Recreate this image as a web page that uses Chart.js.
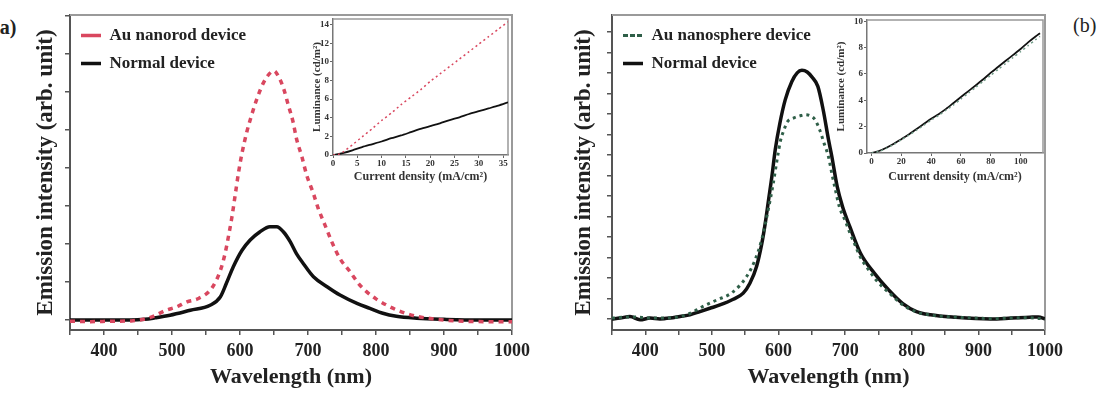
<!DOCTYPE html>
<html>
<head>
<meta charset="utf-8">
<script src="https://cdn.jsdelivr.net/npm/chart.js@4"></script>
<style>
  body { margin: 0; background: #fff; }
  #wrap { position: relative; width: 1103px; height: 395px; overflow: hidden; background: #fff; }
  canvas { position: absolute; }
  .tag { position: absolute; font: 20px "Liberation Serif", serif; color: #222; line-height: 20px; }
</style>
</head>
<body>
<div id="wrap">
  <span class="tag" style="left:-7px; top:17px; font-weight:bold;">(a)</span>
  <span class="tag" style="left:1073px; top:15px;">(b)</span>
  <canvas id="mainA" width="540" height="395" style="left:0; top:0;"></canvas>
  <canvas id="insetA" width="218" height="190" style="left:298px; top:0;"></canvas>
  <canvas id="mainB" width="520" height="395" style="left:550px; top:0;"></canvas>
  <canvas id="insetB" width="222" height="190" style="left:828px; top:0;"></canvas>
</div>
<script>
// (a) emission spectra
var aWaveRed = [350,380,410,440,460,475,490,507,522,539,558,571,578,583,588,593,598,603,610,617,625,634,643,650,657,664,671,678,683,691,698,708,715,725,735,747,762,774,786,800,815,830,845,860,880,900,930,960,1000];
var aRed = [-0.03,-0.04,-0.03,-0.02,0.03,0.12,0.25,0.35,0.48,0.57,0.83,1.3,1.75,2.2,2.7,3.3,3.9,4.4,4.95,5.39,5.83,6.23,6.48,6.56,6.4,6.1,5.66,5.22,4.78,4.3,3.82,3.33,2.94,2.5,2.06,1.62,1.27,0.97,0.75,0.56,0.4,0.27,0.17,0.1,0.04,0.0,-0.03,-0.04,-0.04];
var aWaveBlack = [350,400,440,460,475,497,527,556,571,580,590,603,615,629,644,654,664,674,683,693,708,728,747,772,791,810,830,860,900,950,1000];
var aBlack = [0.0,0.0,0.0,0.02,0.06,0.13,0.26,0.39,0.61,0.97,1.4,1.84,2.11,2.32,2.46,2.46,2.32,2.06,1.75,1.49,1.14,0.88,0.66,0.44,0.31,0.18,0.1,0.05,0.02,0.0,0.0];

// (b) emission spectra
var bWaveBlack = [350,362,377,392,407,422,437,452,467,482,497,512,532,547,557,567,575,580,585,590,595,602,610,620,628,635,643,650,659,667,675,680,688,696,707,723,744,765,786,807,828,866,918,950,977,990,1000];
var bBlack = [0.0,0.02,0.06,-0.02,0.02,0.0,0.02,0.06,0.1,0.18,0.26,0.34,0.48,0.63,0.87,1.28,1.85,2.33,2.9,3.47,4.12,4.77,5.34,5.79,6.0,6.06,6.02,5.9,5.67,5.1,4.37,3.96,3.23,2.74,2.25,1.6,1.11,0.71,0.38,0.18,0.1,0.04,0.0,0.02,0.04,0.05,0.0];
var bWaveGreen = [350,380,410,440,465,486,507,530,552,565,575,585,592,598,603,608,613,623,632,640,648,655,662,668,675,680,686,691,700,707,715,723,733,744,755,765,786,807,830,870,920,970,1000];
var bGreen = [0.02,0.05,0.02,0.03,0.12,0.3,0.46,0.64,1.03,1.45,1.95,2.7,3.3,3.9,4.35,4.6,4.8,4.9,4.95,4.98,4.95,4.85,4.6,4.3,3.95,3.55,3.1,2.75,2.4,2.1,1.8,1.5,1.25,1.0,0.8,0.65,0.35,0.17,0.09,0.04,0.01,0.03,0.0];

// insets: luminance vs current density
var insetACurrent = [0,1,2,4,6,8,10,12,14,16,18,20,22,24,26,28,30,32,34,36];
var insetARed = [0,0.05,0.3,1.1,1.95,2.8,3.7,4.5,5.4,6.2,7.0,7.9,8.7,9.5,10.3,11.1,11.9,12.7,13.5,14.3];
var insetABlack = [0,0.08,0.2,0.5,0.85,1.15,1.45,1.8,2.1,2.45,2.8,3.1,3.4,3.75,4.05,4.4,4.7,5.0,5.3,5.65];
var insetBCurrent = [0,5,10,15,20,25,30,35,40,45,50,55,60,65,70,75,80,85,90,95,100,105,110,113];
var insetBBlack = [0,0.15,0.4,0.7,1.05,1.4,1.8,2.2,2.6,2.95,3.35,3.8,4.25,4.7,5.15,5.6,6.1,6.55,7.0,7.45,7.9,8.4,8.85,9.1];
var insetBGreen = [0,0.12,0.35,0.65,1.0,1.35,1.72,2.1,2.5,2.85,3.25,3.65,4.1,4.55,5.0,5.45,5.9,6.35,6.8,7.25,7.7,8.15,8.6,8.85];

var serif = '"Liberation Serif", "Times New Roman", serif';
var redCol = '#d9475f';
var greenCol = '#2f5f48';

function pts(xs, ys) {
  return xs.map(function (x, i) { return { x: x, y: ys[i] }; });
}

// top + right border of the frame
var framePlugin = {
  id: 'frame',
  beforeDatasetsDraw: function (chart, args, opts) {
    var a = chart.chartArea, ctx = chart.ctx;
    ctx.save();
    ctx.strokeStyle = opts.color || '#999';
    ctx.lineWidth = opts.width || 1.5;
    ctx.beginPath();
    ctx.moveTo(a.left, a.top);
    ctx.lineTo(a.right, a.top);
    ctx.lineTo(a.right, a.bottom);
    ctx.stroke();
    ctx.restore();
  }
};

function mainChart(id, datasets, yMax, yMin, yStep, yWidth, yTitlePad, rightPad) {
  return new Chart(document.getElementById(id), {
    type: 'line',
    data: { datasets: datasets },
    plugins: [framePlugin],
    options: {
      responsive: false,
      animation: false,
      devicePixelRatio: 1,
      layout: { padding: { top: 15, right: rightPad, left: 0, bottom: 0 } },
      elements: { point: { radius: 0 }, line: { cubicInterpolationMode: 'monotone' } },
      plugins: {
        frame: { color: '#9a9a9a', width: 2 },
        tooltip: { enabled: false },
        legend: {
          position: 'chartArea',
          align: 'start',
          // empty title only pushes the entries down inside the frame
          title: { display: true, text: '', font: { size: 10 }, padding: { top: 0, bottom: 4 } },
          labels: {
            boxWidth: 20, boxHeight: 0, padding: 11,
            color: '#222',
            font: { family: serif, size: 17, weight: 'bold' }
          }
        }
      },
      scales: {
        x: {
          type: 'linear', min: 350, max: 1000,
          border: { color: '#555', width: 2 },
          grid: { drawOnChartArea: false, tickLength: 5, tickColor: '#555', lineWidth: 1.5 },
          ticks: {
            stepSize: 50, includeBounds: false, padding: 6, maxRotation: 0, autoSkip: false,
            color: '#222', font: { family: serif, size: 18, weight: 'bold' },
            callback: function (v) { return v % 100 === 0 ? String(v) : ''; }
          },
          title: {
            display: true, text: 'Wavelength (nm)', color: '#222',
            font: { family: serif, size: 22, weight: 'bold' },
            padding: { top: 0, bottom: 4 }
          },
          afterFit: function (s) { s.height = 65; }
        },
        y: {
          min: yMin, max: yMax,
          border: { color: '#555', width: 2 },
          grid: { drawOnChartArea: false, tickLength: 5, tickColor: '#555', lineWidth: 1.5 },
          ticks: { stepSize: yStep, includeBounds: false, callback: function () { return ''; } },
          title: {
            display: true, text: 'Emission intensity (arb. unit)', color: '#222',
            font: { family: serif, size: 23, weight: 'bold' },
            padding: { top: yTitlePad, bottom: 0 }
          },
          afterFit: function (s) { s.width = yWidth; }
        }
      }
    }
  });
}

function insetChart(id, datasets, xMin, xMax, xStep, yMax, yWidth, yTitlePad, top, rightPad, xHeight) {
  return new Chart(document.getElementById(id), {
    type: 'line',
    data: { datasets: datasets },
    plugins: [framePlugin],
    options: {
      responsive: false,
      animation: false,
      devicePixelRatio: 1,
      layout: { padding: { top: top, right: rightPad, left: 0, bottom: 0 } },
      elements: { point: { radius: 0 }, line: { tension: 0.2 } },
      plugins: {
        frame: { color: '#999', width: 1.5 },
        legend: { display: false },
        tooltip: { enabled: false }
      },
      scales: {
        x: {
          type: 'linear', min: xMin, max: xMax,
          border: { color: '#777', width: 1.5 },
          grid: { drawOnChartArea: false, tickLength: 3, tickColor: '#666' },
          ticks: {
            stepSize: xStep, includeBounds: false, padding: 0, maxRotation: 0, autoSkip: false,
            color: '#333', font: { family: serif, size: 9, weight: 'bold' }
          },
          title: {
            display: true, text: 'Current density (mA/cm²)', color: '#333',
            font: { family: serif, size: 12, weight: 'bold' },
            padding: { top: 0, bottom: 6 }
          },
          afterFit: function (s) { s.height = xHeight; }
        },
        y: {
          min: 0, max: yMax,
          border: { color: '#777', width: 1.5 },
          grid: { drawOnChartArea: false, tickLength: 3, tickColor: '#666' },
          ticks: {
            stepSize: 2, includeBounds: false, padding: 1,
            color: '#333', font: { family: serif, size: 9, weight: 'bold' }
          },
          title: {
            display: true, text: 'Luminance (cd/m²)', color: '#333',
            font: { family: serif, size: 11, weight: 'bold' },
            padding: { top: yTitlePad, bottom: 0 }
          },
          afterFit: function (s) { s.width = yWidth; }
        }
      }
    }
  });
}

mainChart('mainA', [
  { label: 'Au nanorod device', data: pts(aWaveRed, aRed), borderColor: redCol, backgroundColor: redCol,
    borderWidth: 3.5, borderDash: [5, 5] },
  { label: 'Normal device', data: pts(aWaveBlack, aBlack), borderColor: '#111', backgroundColor: '#111',
    borderWidth: 3.5 }
], 8.03, -0.26, 1, 70, 32, 28);

mainChart('mainB', [
  { label: 'Au nanosphere device', data: pts(bWaveGreen, bGreen), borderColor: greenCol, backgroundColor: greenCol,
    borderWidth: 3, borderDash: [3, 4] },
  { label: 'Normal device', data: pts(bWaveBlack, bBlack), borderColor: '#111', backgroundColor: '#111',
    borderWidth: 3.5 }
], 7.41, -0.27, 0.5, 62, 20, 25);

insetChart('insetA', [
  { label: 'Au nanorod device', data: pts(insetACurrent, insetARed), borderColor: redCol,
    borderWidth: 1.5, borderDash: [2, 3] },
  { label: 'Normal device', data: pts(insetACurrent, insetABlack), borderColor: '#111', borderWidth: 1.8 }
], 0, 36, 5, 14.6, 35, 13, 19, 8, 35);

insetChart('insetB', [
  { label: 'Au nanosphere device', data: pts(insetBCurrent, insetBGreen), borderColor: '#6f9a86',
    borderWidth: 1.5, borderDash: [2, 3] },
  { label: 'Normal device', data: pts(insetBCurrent, insetBBlack), borderColor: '#111', borderWidth: 1.8 }
], -3, 115, 20, 10.1, 39, 7, 20, 7, 37);
</script>
</body>
</html>
